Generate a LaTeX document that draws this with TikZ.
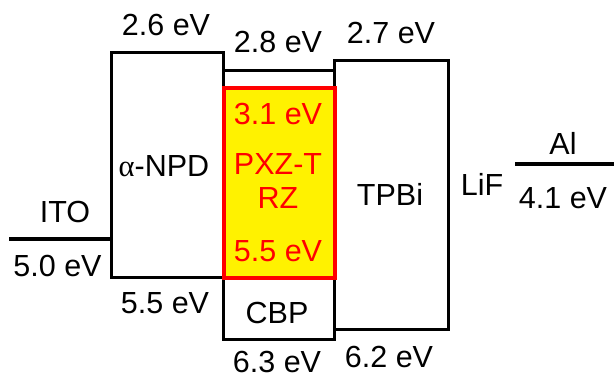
\documentclass[tikz,border=0pt]{standalone}
\usepackage{fontspec}
\setmainfont{Liberation Sans}
\newfontfamily\greekserif{Liberation Serif}
\begin{document}
\begin{tikzpicture}[x=1pt,y=-1pt,
  lab/.style={anchor=base,inner sep=0pt,font=\fontsize{30.5}{33}\selectfont},
  redlab/.style={lab,text=red},
  layer/.style={draw=black,line width=3.4pt,inner sep=0pt,anchor=north west},
  level/.style={line width=4.6pt}]
\useasboundingbox (0,0) rectangle (614,378);
% boxes
\node[layer,minimum width=112pt,minimum height=225pt] (npd) at (110,51) {};
\node[layer,minimum width=111pt,minimum height=269pt] (cbp) at (222,69) {};
\node[layer,minimum width=114pt,minimum height=269pt] (tpbi) at (333,59) {};
\node[layer,draw=red,fill=yellow,line width=3.8pt,minimum width=111pt,minimum height=190pt] (emit) at (222,86) {};
% electrode levels
\coordinate (itoL) at (9,239);
\coordinate (itoR) at (110,239);
\coordinate (alL) at (515,164);
\coordinate (alR) at (614,164);
\draw[level] (itoL) -- (itoR);
\draw[level] (alL) -- (alR);
% labels
\node[lab] (ito) at (65,222) {ITO};
\node[lab] (itoE) at (57.5,276) {5.0 eV};
\node[lab] (npdT) at (166,35) {2.6 eV};
\node[lab] (npdN) at (164,176) {{\greekserif α}-NPD};
\node[lab] (npdB) at (165,313) {5.5 eV};
\node[lab] (cbpT) at (278,52) {2.8 eV};
\node[lab] (cbpN) at (277,323) {CBP};
\node[lab] (cbpB) at (277,372) {6.3 eV};
\node[redlab] (emT) at (278,124) {3.1 eV};
\node[redlab] (emN1) at (278,174) {PXZ-T};
\node[redlab] (emN2) at (278,208) {RZ};
\node[redlab] (emB) at (278,261) {5.5 eV};
\node[lab] (tpT) at (391,43) {2.7 eV};
\node[lab] (tpN) at (390,205) {TPBi};
\node[lab] (tpB) at (389,367) {6.2 eV};
\node[lab] (lif) at (482,195) {LiF};
\node[lab] (al) at (563,154) {Al};
\node[lab] (alE) at (563,208) {4.1 eV};
\end{tikzpicture}
\end{document}
